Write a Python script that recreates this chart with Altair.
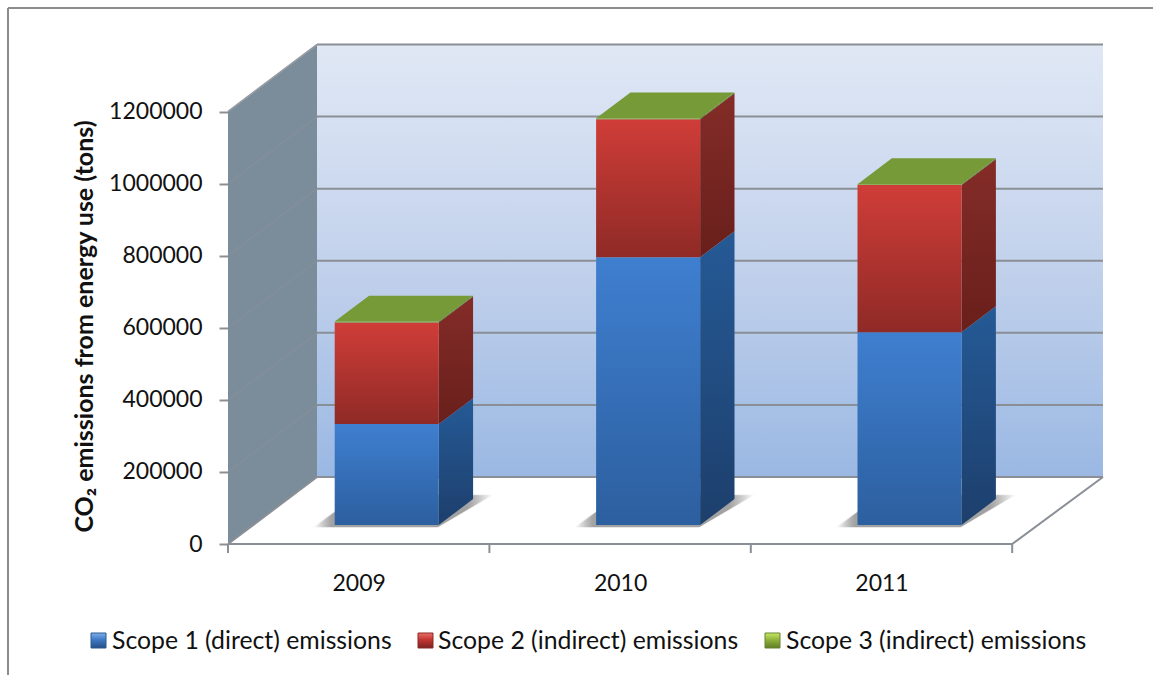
import altair as alt
import pandas as pd

# Emissions in tons per year, by scope
years = [2009, 2010, 2011]
scope_names = [
    "Scope 1 (direct) emissions",
    "Scope 2 (indirect) emissions",
    "Scope 3 (indirect) emissions",
]
scope1 = [280000, 743000, 535000]
scope2 = [282000, 383000, 408000]
scope3 = [2500, 2500, 2500]
y_ticks = [0, 200000, 400000, 600000, 800000, 1000000, 1200000]

FONT = "Lato"
INK = "#111111"
GRID = "#8a8f96"

# Oblique projection: a point at depth d (0 front, 1 back) shifts right and up
UNIT_PX = 261.4
PX_PER_TON = 432.5 / 1200000
DX = 89 / UNIT_PX
DY = 67 / PX_PER_TON
N = len(years)
PLOT_W = 875
PLOT_H = 500
X_MAX = PLOT_W / UNIT_PX
Y_MAX = PLOT_H / PX_PER_TON
AXIS_TOP = 1200000

# Bar box inside each category slot
BAR_START = 0.3115
BAR_WIDTH = 0.398
DEPTH_FRONT = 0.284
DEPTH_BACK = 0.67

x_scale = alt.Scale(domain=[0, X_MAX], nice=False, zero=False)
y_scale = alt.Scale(domain=[0, Y_MAX], nice=False, zero=False)

# The same axis definitions go on every layer so they merge into one pair
x_axis = alt.Axis(
    values=[i + 0.5 for i in range(N)],
    labelExpr=f"{years[0]} + floor(datum.value)",
    ticks=False,
    domain=False,
    grid=False,
    title=None,
    labelFont=FONT,
    labelFontSize=23,
    labelColor=INK,
    labelPadding=28,
    labelAngle=0,
    labelFlush=False,
    labelOverlap=False,
)
y_axis = alt.Axis(
    values=y_ticks,
    format="d",
    tickSize=9,
    tickWidth=2,
    tickColor=GRID,
    domain=False,
    grid=False,
    labelFont=FONT,
    labelFontSize=23,
    labelColor=INK,
    labelPadding=17,
    labelOverlap=False,
    labelFlush=False,
    title="CO\u2082 emissions from energy use (tons)",
    titleFont=FONT,
    titleFontSize=25,
    titleFontWeight="bold",
    titleColor=INK,
    titleX=-136,
    titleY=282,
    titleBaseline="alphabetic",
)


def enc_x(field="x"):
    return alt.X(f"{field}:Q", scale=x_scale, axis=x_axis)


def enc_y(field="y"):
    return alt.Y(f"{field}:Q", scale=y_scale, axis=y_axis)


def vgrad(*stops):
    return alt.LinearGradient(
        gradient="linear",
        x1=0, x2=0, y1=0, y2=1,
        stops=[alt.GradientStop(color=c, offset=o) for o, c in stops],
    )


def hgrad(*stops):
    return alt.LinearGradient(
        gradient="linear",
        x1=0, x2=1, y1=0, y2=0,
        stops=[alt.GradientStop(color=c, offset=o) for o, c in stops],
    )


def proj_x(cat, frac, depth):
    return cat + frac + depth * DX


def proj_y(value, depth):
    return value + depth * DY


def segment(xs, ys, ys2):
    """Sideways parallelogram: x runs along the depth, y/y2 bound it."""
    return pd.DataFrame({"x": xs, "y": ys, "y2": ys2})


# ---- walls and floor ----
back_wall = (
    alt.Chart(pd.DataFrame({"x": [DX], "x2": [X_MAX], "y": [DY], "y2": [Y_MAX]}))
    .mark_rect(color=vgrad((0, "#e0e8f5"), (0.5, "#c3d2ec"), (1, "#9ab8e3")))
    .encode(x=enc_x(), x2="x2:Q", y=enc_y(), y2="y2:Q")
)

left_wall = (
    alt.Chart(segment([0, DX], [0, DY], [AXIS_TOP, AXIS_TOP + DY]))
    .mark_area(color="#7b8c9b", orient="vertical")
    .encode(x=enc_x(), y=enc_y(), y2="y2:Q")
)

floor = (
    alt.Chart(pd.DataFrame({"x": [0, DX], "x2": [N, X_MAX], "y": [0, DY]}))
    .mark_area(color="#ffffff", orient="horizontal")
    .encode(x=enc_x(), x2="x2:Q", y=enc_y())
)

# Gridlines on the back wall and their faint continuation on the left wall
back_grid_rows = pd.DataFrame(
    {"x": DX, "x2": X_MAX, "y": [float(v + DY) for v in y_ticks]}
)
back_grid = (
    alt.Chart(back_grid_rows)
    .mark_rule(color=GRID, strokeWidth=2)
    .encode(x=enc_x(), x2="x2:Q", y=enc_y())
)
wall_grid_rows = pd.DataFrame(
    {"x": 0.0, "x2": DX, "y": [float(v) for v in y_ticks[1:]],
     "y2": [float(v + DY) for v in y_ticks[1:]]}
)
wall_grid = (
    alt.Chart(wall_grid_rows)
    .mark_rule(color="#858f98", strokeWidth=1.5)
    .encode(x=enc_x(), x2="x2:Q", y=enc_y(), y2="y2:Q")
)
wall_top = (
    alt.Chart(pd.DataFrame({"x": [0.0], "x2": [DX], "y": [float(AXIS_TOP)], "y2": [AXIS_TOP + DY]}))
    .mark_rule(color="#9a9fa5", strokeWidth=1.5)
    .encode(x=enc_x(), x2="x2:Q", y=enc_y(), y2="y2:Q")
)

floor_edges = pd.DataFrame(
    {
        "x": [0.0, float(N), 0.0],
        "x2": [float(N), X_MAX, DX],
        "y": [0.0, 0.0, 0.0],
        "y2": [0.0, DY, DY],
    }
)
floor_lines = (
    alt.Chart(floor_edges)
    .mark_rule(color=GRID, strokeWidth=2)
    .encode(x=enc_x(), x2="x2:Q", y=enc_y(), y2="y2:Q")
)

# Category ticks hanging below the floor's front edge
cat_ticks = (
    alt.Chart(pd.DataFrame({"x": [float(i) for i in range(N + 1)], "y": 0.0, "y2": -9 / PX_PER_TON}))
    .mark_rule(color=GRID, strokeWidth=2)
    .encode(x=enc_x(), y=enc_y(), y2="y2:Q")
)

# ---- soft shadows cast on the floor ----
shadow_layers = []
for grow, alpha in [(0.0, 0.36), (0.005, 0.2), (0.01, 0.12)]:
    rows = []
    for i in range(N):
        d0 = DEPTH_FRONT - 0.03 - grow
        d1 = DEPTH_FRONT + 0.445 + grow
        left = i + BAR_START
        right = left + BAR_WIDTH
        rows.append({"id": i, "y": proj_y(0, d0),
                     "x": proj_x(left, -0.065 - grow, d0),
                     "x2": proj_x(right, 0.008, d0)})
        rows.append({"id": i, "y": proj_y(0, d1),
                     "x": proj_x(left, -0.065, d1),
                     "x2": proj_x(right, 0.05 + grow, d1)})
    shadow_layers.append(
        alt.Chart(pd.DataFrame(rows))
        .mark_area(
            orient="horizontal",
            opacity=alpha,
            color=hgrad((0, "rgba(85,85,85,0)"), (0.1, "rgba(85,85,85,1)"),
                        (0.86, "rgba(85,85,85,1)"), (1, "rgba(85,85,85,0)")),
        )
        .encode(x=enc_x(), x2="x2:Q", y=enc_y(), detail="id:N")
    )

# ---- stacked bars: front, side and top faces ----
front_styles = [
    vgrad((0, "#3f7fd0"), (1, "#2c5f9f")),
    vgrad((0, "#d03d38"), (1, "#8f2a26")),
    vgrad((0, "#8cb043"), (1, "#789a38")),
]
side_styles = [
    vgrad((0, "#255a96"), (1, "#1d3f6c")),
    vgrad((0, "#842c28"), (1, "#691f1b")),
    vgrad((0, "#5d7a2a"), (1, "#4f6a24")),
]
TOP_FILL = "#769a37"

bar_layers = []
base = [0.0] * N
for series in [scope1, scope2, scope3]:
    idx = len(bar_layers) // 2
    fronts = []
    sides = []
    for i, v in enumerate(series):
        left = i + BAR_START
        low = base[i]
        high = base[i] + v
        fronts.append({
            "x": proj_x(left, 0, DEPTH_FRONT),
            "x2": proj_x(left, BAR_WIDTH, DEPTH_FRONT),
            "y": proj_y(low, DEPTH_FRONT),
            "y2": proj_y(high, DEPTH_FRONT),
        })
        for d in (DEPTH_FRONT, DEPTH_BACK):
            sides.append({
                "id": i,
                "x": proj_x(left, BAR_WIDTH, d),
                "y": proj_y(low, d),
                "y2": proj_y(high, d),
            })
        base[i] = high
    bar_layers.append(
        alt.Chart(pd.DataFrame(sides))
        .mark_area(orient="vertical", color=side_styles[idx])
        .encode(x=enc_x(), y=enc_y(), y2="y2:Q", detail="id:N")
    )
    bar_layers.append(
        alt.Chart(pd.DataFrame(fronts))
        .mark_rect(color=front_styles[idx])
        .encode(x=enc_x(), x2="x2:Q", y=enc_y(), y2="y2:Q")
    )

top_rows = []
for i in range(N):
    left = i + BAR_START
    for d in (DEPTH_FRONT, DEPTH_BACK):
        top_rows.append({
            "id": i,
            "x": proj_x(left, 0, d),
            "x2": proj_x(left, BAR_WIDTH, d),
            "y": proj_y(base[i], d),
        })
tops = (
    alt.Chart(pd.DataFrame(top_rows))
    .mark_area(orient="horizontal", color=TOP_FILL)
    .encode(x=enc_x(), x2="x2:Q", y=enc_y(), detail="id:N")
)

# ---- legend row and outer frame, placed relative to the plot origin ----
ORIGIN_X, ORIGIN_Y = 228, 44
legend_swatches = [
    (91, vgrad((0, "#7fb0ea"), (0.45, "#3f79c4"), (1, "#254f86")), "#2c5a93"),
    (418, vgrad((0, "#ea6e69"), (0.45, "#c23531"), (1, "#7c2220")), "#8a2a27"),
    (765, vgrad((0, "#c9e86a"), (0.45, "#8fb33c"), (1, "#5f7d25")), "#66842c"),
]
legend_text_x = [112, 438, 786]
legend_layers = []
for (sx, fill, edge), tx, name in zip(legend_swatches, legend_text_x, scope_names):
    legend_layers.append(
        alt.Chart(pd.DataFrame({"k": [0]}))
        .mark_rect(color=fill, stroke=edge, strokeWidth=1)
        .encode(
            x=alt.value(sx - ORIGIN_X),
            x2=alt.value(sx + 15 - ORIGIN_X),
            y=alt.value(633 - ORIGIN_Y),
            y2=alt.value(648 - ORIGIN_Y),
        )
    )
    legend_layers.append(
        alt.Chart(pd.DataFrame({"label": [name]}))
        .mark_text(align="left", baseline="alphabetic", font=FONT, fontSize=24.8, color=INK)
        .encode(x=alt.value(tx - ORIGIN_X), y=alt.value(649 - ORIGIN_Y), text="label:N")
    )

frame = [
    alt.Chart(pd.DataFrame({"k": [0]}))
    .mark_rule(color="#8c8c8c", strokeWidth=2)
    .encode(
        x=alt.value(8 - ORIGIN_X),
        x2=alt.value(1153 - ORIGIN_X),
        y=alt.value(8 - ORIGIN_Y),
    ),
    alt.Chart(pd.DataFrame({"k": [0]}))
    .mark_rule(color="#8c8c8c", strokeWidth=2)
    .encode(
        x=alt.value(8 - ORIGIN_X),
        y=alt.value(8 - ORIGIN_Y),
        y2=alt.value(675 - ORIGIN_Y),
    ),
]

chart = (
    alt.layer(
        back_wall,
        left_wall,
        floor,
        back_grid,
        wall_grid,
        wall_top,
        floor_lines,
        cat_ticks,
        *shadow_layers,
        *bar_layers,
        tops,
        *legend_layers,
        *frame,
    )
    .properties(
        width=PLOT_W,
        height=PLOT_H,
        padding={"left": ORIGIN_X, "top": ORIGIN_Y, "right": 1153 - ORIGIN_X - PLOT_W, "bottom": 675 - ORIGIN_Y - PLOT_H},
        autosize=alt.AutoSizeParams(type="none"),
        background="#ffffff",
    )
    .configure_view(stroke=None)
)

chart.save("out.html", embed_options={"renderer": "svg", "actions": False})
